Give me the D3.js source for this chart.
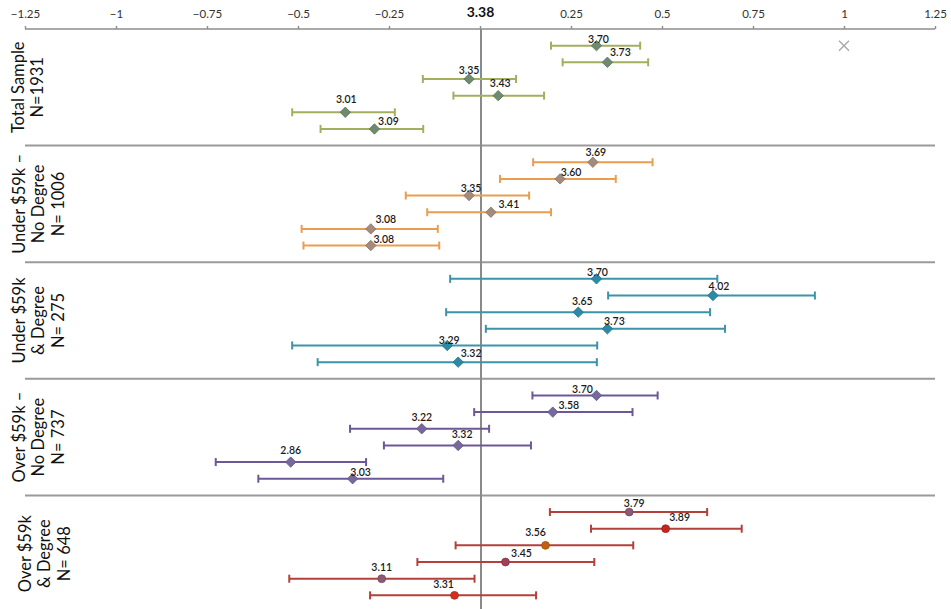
<!DOCTYPE html>
<html>
<head>
<meta charset="utf-8">
<script src="https://cdn.jsdelivr.net/npm/d3@7/dist/d3.min.js"></script>
<style>
  html, body { margin: 0; padding: 0; background: #ffffff; }
  svg { display: block; }
  text { font-family: Lato, "Open Sans", "DejaVu Sans", sans-serif; }
</style>
</head>
<body>
<svg id="chart" width="951" height="609"></svg>
<script>
// Mean scores by segment with confidence intervals, centred on the overall benchmark
const benchmark = 3.38;
const tickValues = [-1.25, -1, -0.75, -0.5, -0.25, 0, 0.25, 0.5, 0.75, 1, 1.25];

const groupLabels = [
  ["Total Sample", "N=1931"],
  ["Under $59k \u2013", "No Degree", "N= 1006"],
  ["Under $59k", "& Degree", "N= 275"],
  ["Over $59k \u2013", "No Degree", "N= 737"],
  ["Over $59k", "& Degree", "N= 648"]
];

const means = [
  [3.70, 3.73, 3.35, 3.43, 3.01, 3.09],
  [3.69, 3.60, 3.35, 3.41, 3.08, 3.08],
  [3.70, 4.02, 3.65, 3.73, 3.29, 3.32],
  [3.70, 3.58, 3.22, 3.32, 2.86, 3.03],
  [3.79, 3.89, 3.56, 3.45, 3.11, 3.31]
];

const lows = [
  [3.575, 3.607, 3.223, 3.307, 2.864, 2.942],
  [3.526, 3.435, 3.176, 3.235, 2.890, 2.895],
  [3.298, 3.732, 3.287, 3.396, 2.864, 2.934],
  [3.524, 3.364, 3.023, 3.116, 2.654, 2.771],
  [3.572, 3.685, 3.313, 3.208, 2.856, 3.078]
];

const highs = [
  [3.820, 3.842, 3.479, 3.556, 3.146, 3.224],
  [3.854, 3.753, 3.515, 3.575, 3.264, 3.268],
  [4.032, 4.300, 4.012, 4.053, 3.702, 3.701],
  [3.868, 3.799, 3.405, 3.520, 3.067, 3.279],
  [4.004, 4.099, 3.801, 3.694, 3.365, 3.534]
];

// Stray series point shown as a cross at offset 1 in the first row
const strayPoint = { group: 0, row: 0, offset: 1 };

// Styling per segment
const barColors = ["#a3ae5e", "#e99d4f", "#3b94a8", "#6d5897", "#b3403a"];
const markerColors = [
  ["#6f8b6f", "#6f8b6f", "#6f8b6f", "#6f8b6f", "#6f8b6f", "#6f8b6f"],
  ["#a58b7c", "#a58b7c", "#a58b7c", "#a58b7c", "#a58b7c", "#a58b7c"],
  ["#2b8aa6", "#2b8aa6", "#2b8aa6", "#2b8aa6", "#2b8aa6", "#2b8aa6"],
  ["#77689e", "#77689e", "#77689e", "#77689e", "#77689e", "#77689e"],
  ["#8c5a76", "#c4281c", "#c2600f", "#a2405a", "#8c5a76", "#d2301f"]
];
// Square-proportioned diamond, plus a small circle for the last segment
const diamondPath = "M0,-5.2L5.2,0L0,5.2L-5.2,0Z";
const circlePath = d3.symbol().type(d3.symbolCircle).size(48)();
const markerPaths = [diamondPath, diamondPath, diamondPath, diamondPath, circlePath];
// Label placement relative to each marker (dx, dy in px)
const labelShift = [
  [[2, -6], [13, -10], [0, -9], [2, -12], [1, -13], [14, -8]],
  [[3, -10], [11, -7], [2, -7], [18, -8], [15, -10], [13, -6]],
  [[1, -7], [6, -9], [4, -11], [7, -8], [2, -5], [13, -9]],
  [[-14, -6], [16, -7], [0, -11], [4, -11], [0, -12], [8, -6]],
  [[5, -9], [14, -11], [-10, -13], [16, -9], [0, -11], [-11, -11]]
];
const groupLabelX = [18, 19, 19, 19, 25];

const svg = d3.select("#chart");
const W = 951, H = 609;
const plotLeft = 25, plotRight = 935, plotTop = 29, bandH = 116.6;

const x = d3.scaleLinear().domain([-1.25, 1.25]).range([plotLeft, plotRight]);
const yGroup = d3.scaleLinear().domain([0, 5]).range([plotTop, plotTop + 5 * bandH]);
const yRow = (g, i) => yGroup(g + (i + 1) / 7);

// Top axis
const axis = d3.axisTop(x)
  .tickValues(tickValues)
  .tickSize(3)
  .tickPadding(8)
  .tickFormat(d => d === 0 ? benchmark.toFixed(2) : d3.format("")(d));

const axisG = svg.append("g")
  .attr("transform", `translate(0,${plotTop})`)
  .call(axis);
axisG.select(".domain").attr("stroke", "#8c8c8c").attr("stroke-width", 1.6)
  .attr("d", `M${plotLeft},0H${plotRight}`);
axisG.selectAll(".tick line").attr("stroke", "#8c8c8c").attr("stroke-width", 1.4);
axisG.selectAll(".tick text")
  .attr("fill", "#333")
  .style("font-size", "11.5px")
  .filter(d => d === 0)
  .attr("y", -12)
  .style("font-size", "14px")
  .style("font-weight", "bold")
  .attr("fill", "#111");

// Group separators
svg.append("g").selectAll("line")
  .data(d3.range(1, 5))
  .join("line")
  .attr("x1", plotLeft).attr("x2", plotRight)
  .attr("y1", d => yGroup(d)).attr("y2", d => yGroup(d))
  .attr("stroke", "#9a9a9a").attr("stroke-width", 2);

// Benchmark line
svg.append("line")
  .attr("x1", x(0) + 1).attr("x2", x(0) + 1)
  .attr("y1", plotTop).attr("y2", H)
  .attr("stroke", "#8a8a8a").attr("stroke-width", 2);

// Group labels (rotated)
groupLabels.forEach((lines, g) => {
  const cy = yGroup(g + 0.5);
  const t = svg.append("text")
    .attr("transform", `translate(${groupLabelX[g]},${cy}) rotate(-90)`)
    .attr("text-anchor", "middle")
    .attr("fill", "#111")
    .style("font-size", "16.5px");
  lines.forEach((ln, k) => {
    t.append("tspan")
      .attr("x", 0)
      .attr("dy", k === 0 ? "0.35em" : 19.5)
      .text(ln);
  });
});

// Build point records from the arrays
const points = [];
means.forEach((row, g) => row.forEach((m, i) => {
  points.push({ g, i, mean: m, lo: lows[g][i], hi: highs[g][i] });
}));

const marks = svg.append("g");

// Error bars
marks.selectAll("line.bar")
  .data(points)
  .join("line")
  .attr("class", "bar")
  .attr("x1", d => x(d.lo - benchmark)).attr("x2", d => x(d.hi - benchmark))
  .attr("y1", d => yRow(d.g, d.i)).attr("y2", d => yRow(d.g, d.i))
  .attr("stroke", d => barColors[d.g]).attr("stroke-width", 2);

["lo", "hi"].forEach(end => {
  marks.selectAll(`line.cap-${end}`)
    .data(points)
    .join("line")
    .attr("class", `cap-${end}`)
    .attr("x1", d => x(d[end] - benchmark)).attr("x2", d => x(d[end] - benchmark))
    .attr("y1", d => yRow(d.g, d.i) - 4).attr("y2", d => yRow(d.g, d.i) + 4)
    .attr("stroke", d => barColors[d.g]).attr("stroke-width", 2);
});

// Markers
marks.selectAll("path.pt")
  .data(points)
  .join("path")
  .attr("class", "pt")
  .attr("transform", d => `translate(${x(d.mean - benchmark)},${yRow(d.g, d.i)})`)
  .attr("d", d => markerPaths[d.g])
  .attr("fill", d => markerColors[d.g][d.i])
  .attr("stroke", d => d3.color(markerColors[d.g][d.i]).darker(0.6))
  .attr("stroke-width", 0.8);

// Value labels
marks.selectAll("text.val")
  .data(points)
  .join("text")
  .attr("class", "val")
  .attr("x", d => x(d.mean - benchmark) + labelShift[d.g][d.i][0])
  .attr("y", d => yRow(d.g, d.i) + labelShift[d.g][d.i][1])
  .attr("dy", "0.35em")
  .attr("text-anchor", "middle")
  .attr("fill", "#1a1a1a")
  .style("font-size", "10.5px")
  .style("font-weight", "600")
  .text(d => d.mean.toFixed(2));

// Stray cross marker
svg.append("path")
  .attr("transform", `translate(${x(strayPoint.offset)},${yRow(strayPoint.group, strayPoint.row)})`)
  .attr("d", "M-5,-5L5,5M-5,5L5,-5")
  .attr("stroke", "#a9a9a9").attr("stroke-width", 1.4).attr("fill", "none");
</script>
</body>
</html>
